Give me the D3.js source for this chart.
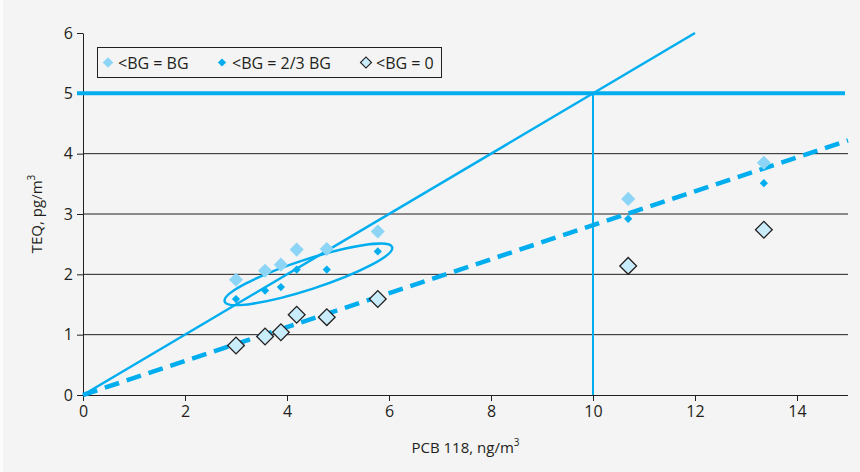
<!DOCTYPE html>
<html>
<head>
<meta charset="utf-8">
<script src="https://cdn.jsdelivr.net/npm/d3@7/dist/d3.min.js"></script>
<style>
  html, body { margin: 0; padding: 0; background: #f4f4f4; }
  svg { display: block; font-family: "Open Sans", "Noto Sans", sans-serif; }
</style>
</head>
<body>
<svg id="chart" width="860" height="472"></svg>
<script>
// ---- data ----
const pcbValues      = [3.0, 3.57, 3.88, 4.19, 4.78, 5.78, 10.69, 13.35];
const teqBG          = [1.91, 2.06, 2.16, 2.41, 2.42, 2.71, 3.25, 3.85];
const teqTwoThirdsBG = [1.59, 1.73, 1.79, 2.08, 2.08, 2.38, 2.92, 3.51];
const teqZero        = [0.82, 0.97, 1.04, 1.33, 1.29, 1.59, 2.14, 2.74];
const seriesNames    = ["<BG = BG", "<BG = 2/3 BG", "<BG = 0"];
const xTicks = [0, 2, 4, 6, 8, 10, 12, 14];
const yTicks = [0, 1, 2, 3, 4, 5, 6];
const gridValues = [1, 2, 3, 4];
const limitTEQ = 5;
const limitPCB = 10;
const solidLine  = [[0, 0], [12, 6]];
const dashedLine = [[0, 0], [15, 4.22]];
const ellipseCenter = [4.42, 2.0];

// ---- layout ----
const svg = d3.select("#chart");
const BLUE = "#00aeef", LIGHT = "#8dd5f6", OPENFILL = "#c9ecfb", INK = "#231f20";
const x = d3.scaleLinear().domain([0, 15]).range([83, 848]);
const y = d3.scaleLinear().domain([0, 6]).range([395, 33]);

svg.append("rect").attr("width", 860).attr("height", 472).attr("fill", "#f4f4f4");
svg.append("rect").attr("width", 3).attr("height", 472).attr("fill", "#fbfbfb");

// grid
svg.append("g").selectAll("line").data(gridValues).join("line")
  .attr("x1", x(0)).attr("x2", x(15))
  .attr("y1", d => y(d)).attr("y2", d => y(d))
  .attr("stroke", INK).attr("stroke-width", 1);

// axes
const xAxis = svg.append("g").attr("transform", `translate(0,${y(0)})`)
  .call(d3.axisBottom(x).tickValues(xTicks).tickFormat(d3.format("d"))
    .tickSize(6).tickSizeOuter(0).tickPadding(5));
const yAxis = svg.append("g").attr("transform", `translate(${x(0)},0)`)
  .call(d3.axisLeft(y).tickValues(yTicks).tickFormat(d3.format("d"))
    .tickSize(6).tickSizeOuter(0).tickPadding(4));
[xAxis, yAxis].forEach(g => {
  g.attr("font-size", 16).attr("font-family", "'Open Sans', sans-serif");
  g.select(".domain").attr("stroke", INK).attr("stroke-width", 1);
  g.selectAll(".tick line").attr("stroke", INK).attr("stroke-width", 1);
  g.selectAll(".tick text").attr("fill", INK).style("font-size", "16px");
});
xAxis.select(".domain").attr("d", `M${x(0)},0.5H${x(15)}`);

// axis titles
const xt = svg.append("text").attr("x", x(7.5)).attr("y", 453)
  .attr("text-anchor", "middle").style("font-size", "15px").attr("fill", INK);
xt.append("tspan").text("PCB 118, ng/m");
xt.append("tspan").text("3").style("font-size", "10px").attr("dy", -7);
const yt = svg.append("text").attr("transform", `translate(42,${y(3)}) rotate(-90)`)
  .attr("text-anchor", "middle").style("font-size", "15px").attr("fill", INK);
yt.append("tspan").text("TEQ, pg/m");
yt.append("tspan").text("3").style("font-size", "10px").attr("dy", -7);

// limit lines
svg.append("line").attr("x1", x(0) - 6).attr("x2", x(15) - 3)
  .attr("y1", y(limitTEQ)).attr("y2", y(limitTEQ))
  .attr("stroke", BLUE).attr("stroke-width", 4);
svg.append("line").attr("x1", x(limitPCB)).attr("x2", x(limitPCB))
  .attr("y1", y(limitTEQ)).attr("y2", y(0))
  .attr("stroke", BLUE).attr("stroke-width", 2);

const lineGen = d3.line().x(d => x(d[0])).y(d => y(d[1]));
svg.append("path").attr("d", lineGen(solidLine))
  .attr("fill", "none").attr("stroke", BLUE).attr("stroke-width", 2.5);
svg.append("path").attr("d", lineGen(dashedLine))
  .attr("fill", "none").attr("stroke", BLUE).attr("stroke-width", 4.5)
  .attr("stroke-dasharray", "15,8");

// ellipse annotation
svg.append("ellipse")
  .attr("transform", `translate(${x(ellipseCenter[0])},${y(ellipseCenter[1])}) rotate(-18)`)
  .attr("rx", 88).attr("ry", 15)
  .attr("fill", "none").attr("stroke", BLUE).attr("stroke-width", 2.5);

// points
const diamond = area => d3.symbol().type(d3.symbolSquare).size(area)();
function drawSeries(vals, area, fill, stroke, sw) {
  svg.append("g").selectAll("path").data(vals).join("path")
    .attr("d", diamond(area))
    .attr("transform", (d, i) => `translate(${x(pcbValues[i])},${y(d)}) rotate(45)`)
    .attr("fill", fill).attr("stroke", stroke).attr("stroke-width", sw);
}
drawSeries(teqBG, 100, LIGHT, "none", 0);
drawSeries(teqTwoThirdsBG, 34, BLUE, "none", 0);
drawSeries(teqZero, 140, OPENFILL, INK, 1.3);

// legend
const lg = svg.append("g");
lg.append("rect").attr("x", 97.5).attr("y", 47.5).attr("width", 344).attr("height", 30)
  .attr("fill", "#f4f4f4").attr("stroke", INK).attr("stroke-width", 1);
const legendItems = [
  { name: seriesNames[0], sx: 108, tx: 118, area: 56, fill: LIGHT, stroke: "none", sw: 0 },
  { name: seriesNames[1], sx: 222, tx: 232, area: 34, fill: BLUE, stroke: "none", sw: 0 },
  { name: seriesNames[2], sx: 366, tx: 376, area: 60, fill: OPENFILL, stroke: INK, sw: 1.2 }
];
legendItems.forEach(it => {
  lg.append("path").attr("d", diamond(it.area))
    .attr("transform", `translate(${it.sx},62.5) rotate(45)`)
    .attr("fill", it.fill).attr("stroke", it.stroke).attr("stroke-width", it.sw);
  lg.append("text").attr("x", it.tx).attr("y", 68.5).style("font-size", "16px")
    .attr("fill", INK).text(it.name);
});
</script>
</body>
</html>
